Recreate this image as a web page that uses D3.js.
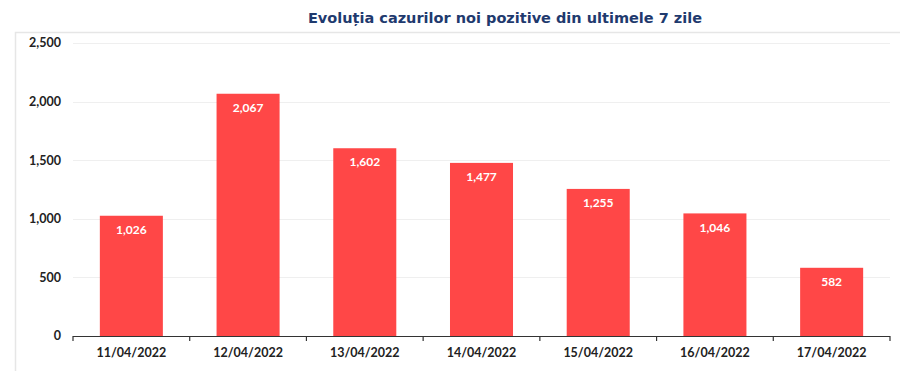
<!DOCTYPE html>
<html><head><meta charset="utf-8">
<script src="https://cdn.jsdelivr.net/npm/d3@7/dist/d3.min.js"></script>
<style>body{margin:0;background:#fff}svg{display:block}</style>
</head><body><svg id="c" width="900" height="371"></svg>
<script>
const categories = ["11/04/2022","12/04/2022","13/04/2022","14/04/2022","15/04/2022","16/04/2022","17/04/2022"];
const values = [1026, 2067, 1602, 1477, 1255, 1046, 582];
const yTicks = [0, 500, 1000, 1500, 2000, 2500];
const title = "Evoluția cazurilor noi pozitive din ultimele 7 zile";

const svg = d3.select("#c");
const m = {left: 73, right: 890, top: 43, bottom: 336};
const x = d3.scaleBand().domain(categories).range([m.left, m.right]).paddingInner(0.46).paddingOuter(0.23);
const y = d3.scaleLinear().domain([0, 2500]).range([m.bottom, m.top]);
const fmt = d3.format(",");

// frame
svg.append("path").attr("d", "M15.5,371 V32.5 H900").attr("fill","none").attr("stroke","#e6e6e6").attr("stroke-width",1.5);

// title
svg.append("text").attr("x", 505).attr("y", 23).attr("text-anchor","middle")
  .attr("font-family","DejaVu Sans, Verdana, sans-serif").attr("font-weight","bold")
  .attr("font-size", 14.5).attr("fill","#1f3a6e").text(title);

// gridlines
svg.append("g").selectAll("line").data(yTicks.filter(d=>d>0)).join("line")
  .attr("x1", m.left).attr("x2", m.right).attr("y1", d=>Math.round(y(d))+0.5).attr("y2", d=>Math.round(y(d))+0.5)
  .attr("stroke","#efefef").attr("stroke-width",1);

// y labels
svg.append("g").selectAll("text").data(yTicks).join("text")
  .attr("x", 61).attr("y", d=>y(d)).attr("dy","0.35em").attr("text-anchor","end")
  .attr("font-family","Lato, Open Sans, sans-serif").attr("font-weight","bold").attr("font-size",12.5)
  .attr("fill","#222").text(d=>fmt(d));

// bars
svg.append("g").selectAll("rect").data(values).join("rect")
  .attr("x", (d,i)=>x(categories[i])).attr("width", x.bandwidth())
  .attr("y", d=>y(d)).attr("height", d=>y(0)-y(d)).attr("fill","#ff4747");

// bar labels
svg.append("g").selectAll("text").data(values).join("text")
  .attr("x", (d,i)=>x(categories[i]) + x.bandwidth()/2).attr("y", d=>y(d)+14).attr("dy","0.35em")
  .attr("text-anchor","middle").attr("font-family","Lato, Open Sans, sans-serif").attr("font-weight","bold")
  .attr("font-size",12).attr("fill","#fff").text(d=>fmt(d));

// x axis
const xAxisG = svg.append("g");
xAxisG.append("line").attr("x1", m.left).attr("x2", m.right).attr("y1", m.bottom+0.5).attr("y2", m.bottom+0.5)
  .attr("stroke","#333").attr("stroke-width",1.2);
const step = x.step();
const bounds = d3.range(categories.length+1).map(i => m.left + i*(m.right-m.left)/categories.length);
xAxisG.selectAll("line.t").data(bounds).join("line").attr("class","t")
  .attr("x1", d=>d).attr("x2", d=>d).attr("y1", m.bottom).attr("y2", m.bottom+5)
  .attr("stroke","#333").attr("stroke-width",1.2);
xAxisG.selectAll("text").data(categories).join("text")
  .attr("x", d=>x(d)+x.bandwidth()/2).attr("y", 353).attr("dy","0.35em").attr("text-anchor","middle")
  .attr("font-family","Lato, Open Sans, sans-serif").attr("font-weight","bold").attr("font-size",12.5)
  .attr("fill","#222").text(d=>d);
</script></body></html>
